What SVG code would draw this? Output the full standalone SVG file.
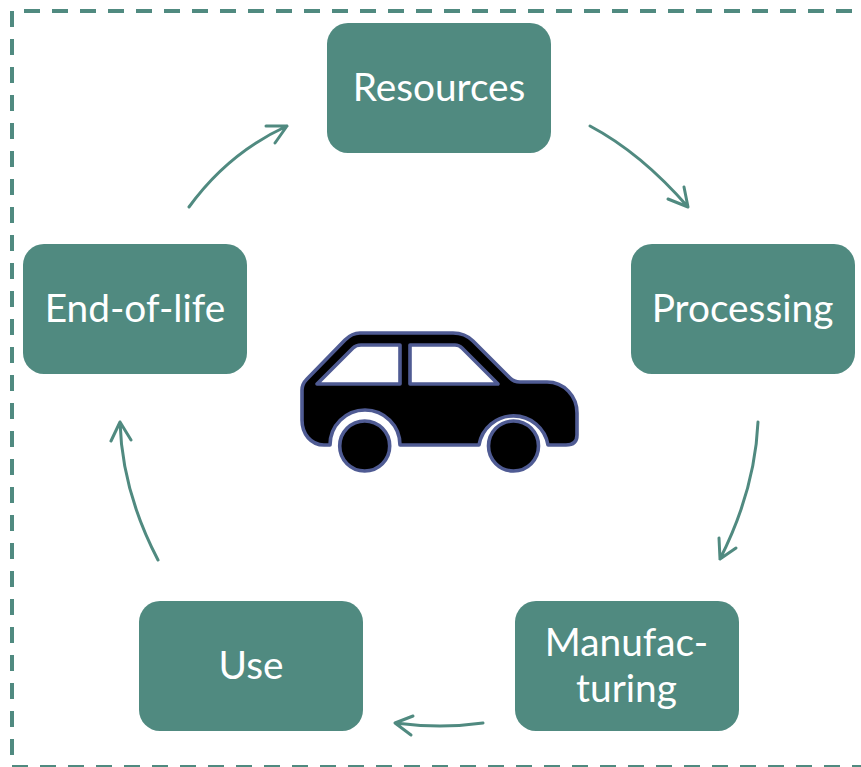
<svg xmlns="http://www.w3.org/2000/svg" width="861" height="767" viewBox="0 0 861 767">
<style>
.n{fill:#508a80}
.t{fill:#fff;font-family:"Lato","Liberation Sans",sans-serif;font-size:38.800px;text-anchor:middle}
.c{fill:none;stroke:#508a80;stroke-width:3;stroke-linecap:round;stroke-linejoin:round}
.d{fill:none;stroke:#508a80;stroke-width:4;stroke-dasharray:16 12}
.k{stroke:#4f5b93;stroke-width:3.600;stroke-linejoin:round}
</style>
<rect width="861" height="767" fill="#fff"/>
<g id="frame"><path class="d" d="M24 11H861"/><path class="d" d="M12 11V767"/><path class="d" d="M12 767H861"/></g>
<g id="connectors">
<path class="c" d="M590 126Q641 153 688 207M668 199L688 207L684 187"/>
<path class="c" d="M758 422Q755 490 720 559M719 538L720 559L736 548"/>
<path class="c" d="M483 723Q441 729 395 723M413 716L395 723L411 735"/>
<path class="c" d="M158 560Q122 491 120 422M111 441L120 422L131 440"/>
<path class="c" d="M189 207Q228 153 287 126M266 126L287 126L275 143"/>
</g>
<g id="resources"><rect class="n" x="327" y="23" width="224" height="130" rx="21"/><text class="t" x="439" y="101">Resources</text></g>
<g id="processing"><rect class="n" x="631" y="244" width="224" height="130" rx="21"/><text class="t" x="742.500" y="322">Processing</text></g>
<g id="manufacturing"><rect class="n" x="515" y="601" width="224" height="130" rx="21"/><text class="t" x="626.500" y="656">Manufac-</text><text class="t" x="626.500" y="702">turing</text></g>
<g id="use"><rect class="n" x="139" y="601" width="224" height="130" rx="21"/><text class="t" x="251" y="679">Use</text></g>
<g id="end-of-life"><rect class="n" x="23" y="244" width="224" height="130" rx="21"/><text class="t" x="135" y="322">End-of-life</text></g>
<g id="car">
<path class="k" d="M360 333H453Q465 333 473 341L510 378Q514 382 520 382H547C564 382 577 396 577 413V435Q577 445 566 445H548A35 35 0 0 0 479 445H400A35 35 0 0 0 330 445H324C311 445 302 434 302 420V390Q302 384 307 379L345 340Q352 333 360 333Z"/>
<path class="k" fill="#fff" d="M317 384L353 348Q356 345 361 345H400V384Z"/>
<path class="k" fill="#fff" d="M410 345H455Q459 345 462 348L498 384H410Z"/>
<circle class="k" cx="364.700" cy="446" r="25"/>
<circle class="k" cx="513.500" cy="446" r="25"/>
</g>
</svg>
